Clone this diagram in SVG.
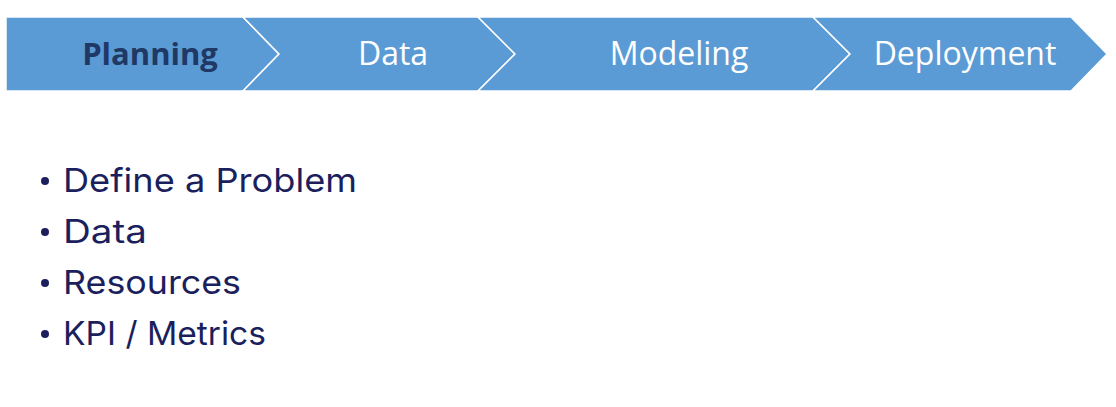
<svg xmlns="http://www.w3.org/2000/svg" width="1116" height="407" viewBox="0 0 1116 407">
<style>
.seg{fill:#5B9BD5;stroke:#FFFFFF;stroke-width:1.5;stroke-linejoin:miter}
.lbl{font-family:"Open Sans","Liberation Sans",sans-serif;font-size:32px;fill:#FFFFFF;text-anchor:middle}
.bold{font-weight:bold;fill:#1F3864;font-size:31px}
.item{font-family:"Inter","Lato",sans-serif;font-size:33px;fill:#1B1F5E}
</style>
<rect width="1116" height="407" fill="#FFFFFF"/>
<g id="planning">
<polygon class="seg" points="6,17 243,17 279,54 243,91 6,91"/>
<text class="lbl bold" x="150" y="65">Planning</text>
</g>
<g id="data">
<polygon class="seg" points="243,17 478,17 515,54 478,91 243,91 279,54"/>
<text class="lbl" x="393" y="65">Data</text>
</g>
<g id="modeling">
<polygon class="seg" points="478,17 813,17 850,54 813,91 478,91 515,54"/>
<text class="lbl" x="679" y="65">Modeling</text>
</g>
<g id="deployment">
<polygon class="seg" points="813,17 1071,17 1107,54 1071,91 813,91 850,54"/>
<text class="lbl" x="965" y="65">Deployment</text>
</g>
<g id="connectors"></g>
<g id="bullets">
<circle cx="45" cy="181" r="4" fill="#1B1F5E"/>
<circle cx="45" cy="232" r="4" fill="#1B1F5E"/>
<circle cx="45" cy="283" r="4" fill="#1B1F5E"/>
<circle cx="45" cy="334" r="4" fill="#1B1F5E"/>
<text class="item" x="63" y="192" textLength="294" lengthAdjust="spacingAndGlyphs">Define a Problem</text>
<text class="item" x="63" y="243" textLength="84" lengthAdjust="spacingAndGlyphs">Data</text>
<text class="item" x="63" y="294" textLength="178" lengthAdjust="spacingAndGlyphs">Resources</text>
<text class="item" x="63" y="345" textLength="203" lengthAdjust="spacingAndGlyphs">KPI / Metrics</text>
</g>
</svg>
